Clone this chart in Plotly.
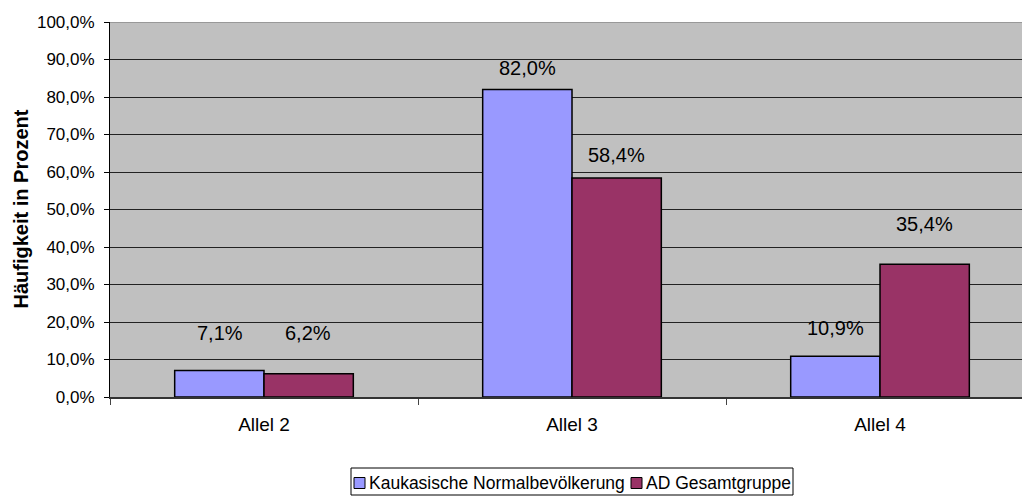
import plotly.graph_objects as go

categories = ["Allel 2", "Allel 3", "Allel 4"]
kaukasisch = [7.1, 82.0, 10.9]
ad_gesamt = [6.2, 58.4, 35.4]
series_names = ["Kaukasische Normalbevölkerung", "AD Gesamtgruppe"]
y_ticks = [0, 10, 20, 30, 40, 50, 60, 70, 80, 90, 100]
y_ticktext = [f"{v:.1f}%".replace(".", ",") for v in y_ticks]

# vertical offset (px) of each value label above its bar
label_shift = [[37, 22, 28], [41, 23, 40]]

FONT = "Liberation Sans, Arial, sans-serif"
COLORS = ["#9999FF", "#993366"]

# plot area in pixels: x 110..1022, y 22..397
PL, PW, PT, PH = 110, 912, 22, 375


def px_x(px):
    return (px - PL) / PW


def px_y(py):
    return (PT + PH - py) / PH


fig = go.Figure()
for name, vals, color in zip(series_names, [kaukasisch, ad_gesamt], COLORS):
    fig.add_trace(go.Bar(
        x=categories, y=vals, name=name, showlegend=False,
        marker=dict(color=color, line=dict(color="#000000", width=1.5)),
    ))

# value labels above bars
for s, vals in enumerate([kaukasisch, ad_gesamt]):
    for i, v in enumerate(vals):
        fig.add_annotation(
            x=i + (-0.144 if s == 0 else 0.144), y=v, xref="x", yref="y",
            text=f"{v:.1f}%".replace(".", ","), showarrow=False,
            yshift=label_shift[s][i], yanchor="middle",
            font=dict(family=FONT, size=20, color="#000000"),
        )

# y-axis title
fig.add_annotation(
    x=px_x(20), y=0.5, xref="paper", yref="paper", textangle=-90,
    text="<b>Häufigkeit in Prozent</b>", showarrow=False,
    xanchor="center", yanchor="middle",
    font=dict(family=FONT, size=20, color="#000000"),
)

# legend box with swatches
shapes = [
    dict(type="rect", xref="paper", yref="paper",
         x0=px_x(351), x1=px_x(793), y0=px_y(468), y1=px_y(495),
         line=dict(color="#000000", width=1), fillcolor="#FFFFFF"),
    dict(type="line", xref="paper", yref="y", x0=0, x1=1, y0=100, y1=100,
         line=dict(color="#999999", width=2), layer="above"),
]
legend_items = [(354, 367), (631, 644)]
for (sx, tx), name, color in zip(legend_items, series_names, COLORS):
    shapes.append(dict(
        type="rect", xref="paper", yref="paper",
        x0=px_x(sx), x1=px_x(sx + 11), y0=px_y(477.5), y1=px_y(488.5),
        line=dict(color="#000000", width=1), fillcolor=color,
    ))
    fig.add_annotation(
        x=px_x(tx), y=px_y(483), xref="paper", yref="paper",
        text=name, showarrow=False, xanchor="left", yanchor="middle",
        font=dict(family=FONT, size=17.5, color="#000000"),
    )

fig.update_layout(
    width=1022, height=496,
    margin=dict(l=PL, r=0, t=PT, b=496 - PT - PH),
    paper_bgcolor="#FFFFFF", plot_bgcolor="#C0C0C0",
    barmode="group", bargap=0.42, bargroupgap=0,
    font=dict(family=FONT, size=16, color="#000000"),
    shapes=shapes,
    xaxis=dict(
        type="category", range=[-0.5, 2.461],
        tickson="boundaries", ticks="outside", ticklen=6, tickcolor="#444444",
        showline=True, linecolor="#333333", linewidth=2,
        showgrid=False, tickfont=dict(size=19), ticklabelstandoff=9,
    ),
    yaxis=dict(
        range=[0, 100], tickvals=y_ticks, ticktext=y_ticktext,
        ticks="outside", ticklen=5, tickcolor="#000000",
        showline=True, linecolor="#000000", linewidth=1,
        showgrid=True, gridcolor="#222222", gridwidth=1,
        zeroline=False, tickfont=dict(size=17), ticklabelstandoff=6,
    ),
)

fig.write_html("out.html")
